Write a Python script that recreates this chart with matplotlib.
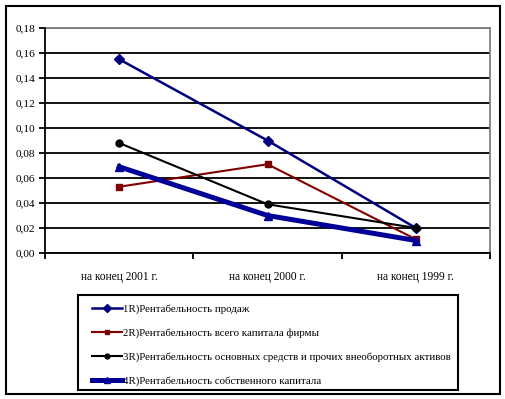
import matplotlib
matplotlib.use("Agg")
import matplotlib.pyplot as plt
from matplotlib.patches import Rectangle
from matplotlib.ticker import FuncFormatter, FixedLocator

categories = ["на конец 2001 г.", "на конец 2000 г.", "на конец 1999 г."]
labels = [
    "1R)Рентабельность продаж",
    "2R)Рентабельность всего капитала фирмы",
    "3R)Рентабельность основных средств и прочих внеоборотных активов",
    "4R)Рентабельность собственного капитала",
]
s1 = [0.155, 0.090, 0.020]
s2 = [0.053, 0.071, 0.011]
s3 = [0.088, 0.039, 0.020]
s4 = [0.069, 0.030, 0.010]
yticks = [0.00, 0.02, 0.04, 0.06, 0.08, 0.10, 0.12, 0.14, 0.16, 0.18]

plt.rcParams['font.family'] = ['Liberation Serif', 'DejaVu Serif']

W, H = 506, 399
fig = plt.figure(figsize=(W / 100, H / 100), dpi=100)
fig.patch.set_facecolor('white')

ax = fig.add_axes([45 / W, 1 - 253 / H, 445 / W, 225 / H])
x = list(range(len(categories)))

styles = [
    dict(color='#000080', lw=1.8, marker='D', ms=5.5),
    dict(color='#800000', lw=1.5, marker='s', ms=4.0),
    dict(color='#000000', lw=1.5, marker='o', ms=5.0),
    dict(color='#000099', lw=3.6, marker='^', ms=6.0),
]
series = [s1, s2, s3, s4]
handles = []
for s, st, lab in zip(series, styles, labels):
    h, = ax.plot(x, s, color=st['color'], lw=st['lw'], marker=st['marker'],
                 ms=st['ms'], mfc=st['color'], mec=st['color'], label=lab,
                 zorder=3)
    handles.append(h)

ax.set_xlim(-0.5, 2.5)
ax.set_ylim(0, 0.18)
ax.set_yticks(yticks)
ax.yaxis.set_major_formatter(FuncFormatter(lambda v, p: f"{v:.2f}".replace('.', ',')))
ax.yaxis.grid(True, color='black', lw=1.3)
ax.set_axisbelow(True)

ax.xaxis.set_major_locator(FixedLocator([-0.5, 0.5, 1.5, 2.5]))
ax.xaxis.set_major_formatter(FuncFormatter(lambda v, p: ""))
ax.xaxis.set_minor_locator(FixedLocator(x))
ax.set_xticklabels(categories, minor=True)
ax.tick_params(axis='x', which='minor', length=0, pad=13, labelsize=8.3)
ax.tick_params(axis='x', which='major', length=4, width=1.3, direction='out')
ax.tick_params(axis='y', length=4, width=1.3, direction='out', labelsize=8.2, pad=3)

for sp in ['left', 'bottom']:
    ax.spines[sp].set_color('black')
    ax.spines[sp].set_linewidth(1.3)
for sp in ['top', 'right']:
    ax.spines[sp].set_color('#808080')
    ax.spines[sp].set_linewidth(1.3)
ax.spines['left'].set_zorder(4)
ax.spines['bottom'].set_zorder(4)

# outer border
fig.patches.append(Rectangle((6 / W, 1 - 394 / H), 494 / W, 388 / H,
                             transform=fig.transFigure, fill=False,
                             edgecolor='black', lw=1.5))
# legend frame
fig.patches.append(Rectangle((78 / W, 1 - 390 / H), 380 / W, 95 / H,
                             transform=fig.transFigure, fill=False,
                             edgecolor='black', lw=1.5))

leg = fig.legend(handles=handles, loc='upper left',
                 bbox_to_anchor=(92 / W, 1 - 304 / H),
                 frameon=False, fontsize=7.8, handlelength=2.8,
                 handletextpad=0.1, labelspacing=1.32, borderaxespad=0,
                 borderpad=0, markerscale=0.7)

fig.savefig('out.png', dpi=100)
